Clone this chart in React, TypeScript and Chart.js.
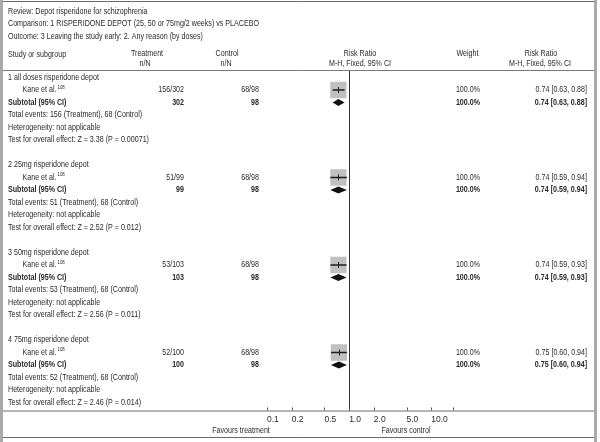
import React, { useEffect, useRef } from "react";
import { Chart, registerables } from "chart.js";

Chart.register(...registerables);

// ---------- data ----------
const titleLines = [
  "Review: Depot risperidone for schizophrenia",
  "Comparison: 1 RISPERIDONE DEPOT (25, 50 or 75mg/2 weeks) vs PLACEBO",
  "Outcome: 3 Leaving the study early: 2. Any reason (by doses)",
];
const sectionLabels = [
  "1 all doses risperidone depot",
  "2 25mg risperidone depot",
  "3 50mg risperidone depot",
  "4 75mg risperidone depot",
];
const studyName = "Kane et al.";
const studyRef = "108";
const treatEvents = [156, 51, 53, 52];
const treatTotals = [302, 99, 103, 100];
const ctrlEvents = [68, 68, 68, 68];
const ctrlTotals = [98, 98, 98, 98];
const rr = [0.74, 0.74, 0.74, 0.75];
const rrLow = [0.63, 0.59, 0.59, 0.6];
const rrHigh = [0.88, 0.94, 0.93, 0.94];
const weights = ["100.0%", "100.0%", "100.0%", "100.0%"];
const zValues = ["3.38", "2.52", "2.56", "2.46"];
const pValues = ["0.00071", "0.012", "0.011", "0.014"];
const tickValues = [0.1, 0.2, 0.5, 1, 2, 5, 10];
const tickLabels = ["0.1", "0.2", "0.5", "1.0", "2.0", "5.0", "10.0"];
const axisMin = 0.1;
const axisMax = 18.4;

const ROWS_PER_SECTION = 7;
const FONT = '"Liberation Sans Narrow", "Arial Narrow", "Liberation Sans", sans-serif';
const TEXT = "#2a2a2a";
const SX = 0.79;

function fmt(v: number) {
  return v.toFixed(2);
}

export default function App() {
  const ref = useRef<HTMLCanvasElement | null>(null);

  useEffect(() => {
    document.body.style.margin = "0";
    const canvas = ref.current!;
    const boxPoints = rr.map((v, i) => ({ x: v, y: i * ROWS_PER_SECTION + 1 }));

    const tablePlugin = {
      id: "table",
      beforeDraw(chart: any) {
        const ctx = chart.ctx as CanvasRenderingContext2D;
        const ys = chart.scales.y;
        const W = 600;
        ctx.save();
        ctx.fillStyle = "#fff";
        ctx.fillRect(0, 0, W, 442);
        // frame
        ctx.fillStyle = "#a9a9a9";
        ctx.fillRect(0, 0, 3, 442);
        ctx.fillRect(594, 0, 3, 442);
        const hline = (y: number, color: string) => {
          ctx.strokeStyle = color;
          ctx.lineWidth = 1;
          ctx.beginPath();
          ctx.moveTo(3, y);
          ctx.lineTo(594, y);
          ctx.stroke();
        };
        hline(1.5, "#6a6a6a");
        hline(70.5, "#7a7a7a");
        hline(chart.chartArea.bottom + 0.5, "#6a6a6a");
        hline(437.5, "#6a6a6a");

        const t = (
          s: string,
          x: number,
          y: number,
          align: CanvasTextAlign = "left",
          bold = false,
          size = 9,
          color = TEXT
        ) => {
          ctx.save();
          ctx.font = `${bold ? "bold " : ""}${size}px ${FONT}`;
          ctx.fillStyle = color;
          ctx.textAlign = align;
          ctx.textBaseline = "middle";
          ctx.translate(x, y);
          ctx.scale(SX, 1);
          ctx.fillText(s, 0, 0);
          const w = ctx.measureText(s).width * SX;
          ctx.restore();
          return w;
        };

        // titles
        titleLines.forEach((s, i) => t(s, 8, 11.5 + i * 12.3));
        // column headers
        t("Study or subgroup", 8, 54.5);
        t("Treatment", 147, 53.5, "center");
        t("n/N", 145, 63.5, "center");
        t("Control", 227, 53.5, "center");
        t("n/N", 226, 63.5, "center");
        t("Risk Ratio", 360, 53.5, "center");
        t("M-H, Fixed, 95% CI", 360, 63.5, "center");
        t("Weight", 467.5, 53.5, "center");
        t("Risk Ratio", 541, 53.5, "center");
        t("M-H, Fixed, 95% CI", 540, 63.5, "center");

        sectionLabels.forEach((lab, i) => {
          const base = i * ROWS_PER_SECTION;
          const y0 = ys.getPixelForValue(base);
          const y1 = ys.getPixelForValue(base + 1);
          const y2 = ys.getPixelForValue(base + 2);
          const y3 = ys.getPixelForValue(base + 3);
          const y4 = ys.getPixelForValue(base + 4);
          const y5 = ys.getPixelForValue(base + 5);
          const ci = `${fmt(rr[i])} [${fmt(rrLow[i])}, ${fmt(rrHigh[i])}]`;
          t(lab, 8, y0);
          const w = t(studyName, 22.5, y1);
          t(studyRef, 22.5 + w + 1, y1 - 3, "left", false, 5.5);
          t(`${treatEvents[i]}/${treatTotals[i]}`, 184, y1, "right");
          t(`${ctrlEvents[i]}/${ctrlTotals[i]}`, 259, y1, "right");
          t(weights[i], 480, y1, "right");
          t(ci, 587, y1, "right");
          t("Subtotal (95% CI)", 8, y2, "left", true);
          t(`${treatTotals[i]}`, 184, y2, "right", true);
          t(`${ctrlTotals[i]}`, 259, y2, "right", true);
          t(weights[i], 480, y2, "right", true);
          t(ci, 587, y2, "right", true);
          t(`Total events: ${treatEvents[i]} (Treatment), ${ctrlEvents[i]} (Control)`, 8, y3);
          t("Heterogeneity: not applicable", 8, y4);
          t(`Test for overall effect: Z = ${zValues[i]} (P = ${pValues[i]})`, 8, y5);
        });

        t("Favours treatment", 241, 430.5, "center");
        t("Favours control", 406, 430.5, "center");
        ctx.restore();
      },
      afterDatasetsDraw(chart: any) {
        const ctx = chart.ctx as CanvasRenderingContext2D;
        const xs = chart.scales.x;
        const ys = chart.scales.y;
        const area = chart.chartArea;
        ctx.save();
        // line of no effect
        const x1 = Math.round(xs.getPixelForValue(1)) + 0.5;
        ctx.strokeStyle = "#333";
        ctx.lineWidth = 1;
        ctx.beginPath();
        ctx.moveTo(x1, area.top);
        ctx.lineTo(x1, area.bottom);
        ctx.stroke();
        // axis tick marks
        const tickXs = tickValues.map((v) => xs.getPixelForValue(v)).concat([area.right]);
        ctx.strokeStyle = "#555";
        tickXs.forEach((px) => {
          const x = Math.round(px) + 0.5;
          ctx.beginPath();
          ctx.moveTo(x, area.bottom - 3);
          ctx.lineTo(x, area.bottom);
          ctx.stroke();
        });
        rr.forEach((v, i) => {
          const base = i * ROWS_PER_SECTION;
          const yStudy = ys.getPixelForValue(base + 1);
          const ySub = ys.getPixelForValue(base + 2);
          const xl = xs.getPixelForValue(rrLow[i]);
          const xh = xs.getPixelForValue(rrHigh[i]);
          const xm = xs.getPixelForValue(v);
          ctx.strokeStyle = "#1e1e1e";
          ctx.lineWidth = 1.5;
          ctx.beginPath();
          ctx.moveTo(xl, yStudy);
          ctx.lineTo(xh, yStudy);
          ctx.stroke();
          ctx.lineWidth = 1;
          ctx.beginPath();
          ctx.moveTo(Math.round(xm) + 0.5, yStudy - 3);
          ctx.lineTo(Math.round(xm) + 0.5, yStudy + 3);
          ctx.stroke();
          // diamond
          ctx.fillStyle = "#111";
          ctx.beginPath();
          ctx.moveTo(xl, ySub);
          ctx.lineTo(xm, ySub - 3.5);
          ctx.lineTo(xh, ySub);
          ctx.lineTo(xm, ySub + 3.5);
          ctx.closePath();
          ctx.fill();
        });
        ctx.restore();
      },
    };

    const chart = new Chart(canvas, {
      type: "scatter",
      data: {
        datasets: [
          {
            data: boxPoints,
            pointStyle: "rect",
            pointRadius: 11.5,
            pointHoverRadius: 11.5,
            backgroundColor: "#c0c0c0",
            borderWidth: 0,
          },
        ],
      },
      options: {
        animation: false,
        responsive: false,
        events: [],
        layout: { padding: { left: 267, right: 147, top: 71, bottom: 11.5 } },
        plugins: { legend: { display: false }, tooltip: { enabled: false } },
        scales: {
          x: {
            type: "logarithmic",
            min: axisMin,
            max: axisMax,
            afterBuildTicks: (scale: any) => {
              scale.ticks = tickValues.map((v) => ({ value: v }));
            },
            afterFit: (scale: any) => {
              scale.height = 20;
            },
            grid: { display: false, drawTicks: false },
            border: { display: false },
            ticks: {
              autoSkip: false,
              maxRotation: 0,
              align: "start",
              padding: 4,
              color: TEXT,
              font: { family: FONT, size: 8.5 },
              callback: (value: any) => {
                const idx = tickValues.indexOf(Number(value));
                return idx >= 0 ? tickLabels[idx] : "";
              },
            },
          },
          y: {
            type: "linear",
            display: false,
            reverse: true,
            min: -0.52,
            max: 26.64,
          },
        },
      },
      plugins: [tablePlugin],
    } as any);
    return () => chart.destroy();
  }, []);

  return (
    <div style={{ position: "absolute", left: 0, top: 0, width: 600, height: 442 }}>
      <canvas ref={ref} width={600} height={442} style={{ width: 600, height: 442, display: "block" }} />
    </div>
  );
}
